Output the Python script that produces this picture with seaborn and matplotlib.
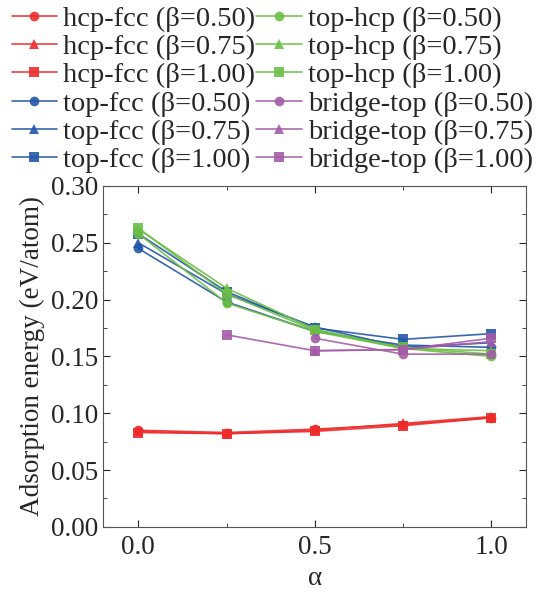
import numpy as np
import pandas as pd
import seaborn as sns
import matplotlib.pyplot as plt
from matplotlib.ticker import MultipleLocator

alpha = [0.0, 0.25, 0.5, 0.75, 1.0]
betas = ['0.50', '0.75', '1.00']
markers = ['o', '^', 's']

hcp_fcc = [[0.085, 0.083, 0.086, 0.090, 0.096],
           [0.084, 0.082, 0.085, 0.091, 0.097],
           [0.083, 0.082, 0.084, 0.089, 0.096]]
top_fcc = [[0.245, 0.198, 0.172, 0.160, 0.158],
           [0.250, 0.205, 0.176, 0.158, 0.162],
           [0.258, 0.207, 0.175, 0.165, 0.170]]
top_hcp = [[0.258, 0.197, 0.172, 0.157, 0.150],
           [0.262, 0.210, 0.174, 0.157, 0.155],
           [0.263, 0.205, 0.173, 0.158, 0.152]]
bridge_top = [[np.nan, np.nan, 0.166, 0.152, 0.152],
              [np.nan, np.nan, 0.155, 0.156, 0.163],
              [np.nan, 0.169, 0.155, 0.156, 0.166]]

sites = ['hcp-fcc', 'top-fcc', 'top-hcp', 'bridge-top']
site_data = [hcp_fcc, top_fcc, top_hcp, bridge_top]
colors = ['#ee2b2b', '#2356a8', '#6cbf45', '#a45ca8']

sns.set_style('ticks')
plt.rcParams['font.family'] = ['Liberation Serif', 'DejaVu Serif']

fig = plt.figure(figsize=(5.37, 5.98), dpi=100)
ax = fig.add_axes([0.192, 0.119, 0.788, 0.570])

for site, data, c in zip(sites, site_data, colors):
    for b, m, vals in zip(betas, markers, data):
        df = pd.DataFrame({'a': alpha, 'e': vals}).dropna()
        sns.lineplot(data=df, x='a', y='e', ax=ax, color=c, marker=m,
                     markersize=7, markeredgewidth=0, linewidth=1.2,
                     alpha=0.9, label=f'{site} (β={b})')

ax.set_xlim(-0.1, 1.1)
ax.set_ylim(0, 0.30)
ax.xaxis.set_major_locator(MultipleLocator(0.5))
ax.xaxis.set_minor_locator(MultipleLocator(0.25))
ax.yaxis.set_major_locator(MultipleLocator(0.05))
ax.yaxis.set_minor_locator(MultipleLocator(0.025))
ax.xaxis.set_major_formatter(plt.FormatStrFormatter('%.1f'))
ax.yaxis.set_major_formatter(plt.FormatStrFormatter('%.2f'))
ax.tick_params(which='both', direction='in', top=True, right=True, labelsize=19.5)
ax.tick_params(which='major', length=5)
ax.tick_params(which='minor', length=3)
ax.tick_params(axis='x', pad=6)
for s in ax.spines.values():
    s.set_color('#555555')
ax.set_xlabel('α', fontsize=19.5, labelpad=4)
ax.set_ylabel('Adsorption energy (eV/atom)', fontsize=19.5, labelpad=4)

h, l = ax.get_legend_handles_labels()
ax.get_legend().remove()
fig.legend(h, l, loc='upper center', bbox_to_anchor=(0.507, 0.99), ncol=2,
           frameon=False, fontsize=20.5, labelspacing=0.08, handlelength=1.6,
           handletextpad=0.2, columnspacing=0.05, borderaxespad=0.0,
           borderpad=0.0)

fig.savefig('out.png', dpi=100)
